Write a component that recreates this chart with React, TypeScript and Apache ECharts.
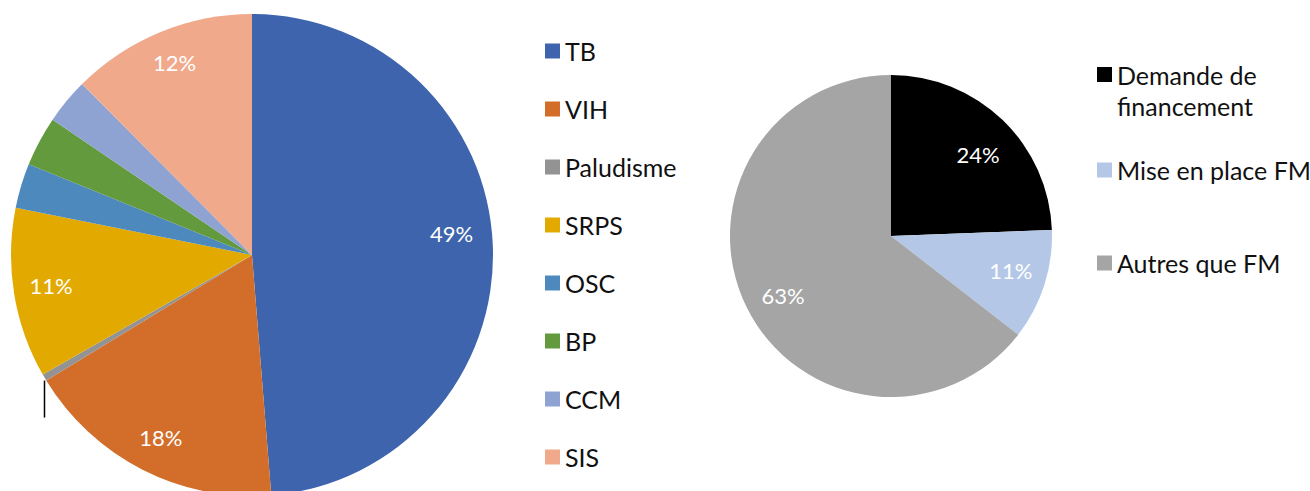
import React, { useEffect, useRef } from "react";
import * as echarts from "echarts";

const leftNames = ["TB", "VIH", "Paludisme", "SRPS", "OSC", "BP", "CCM", "SIS"];
const leftValues = [48.7, 17.55, 0.45, 11.4, 3.0, 3.35, 3.05, 12.45];
const leftLabels = ["49%", "18%", "", "11%", "", "", "", "12%"];
const leftColors = ["#3D64AD", "#D36E2A", "#939393", "#E2AA00", "#4E89BD", "#629A3D", "#8FA3D3", "#F0A98A"];
const leftLabelOffsets = [[-1, -13], [0, 4], [0, 0], [-3, -2], [0, 0], [0, 0], [0, 0], [-1, -7]];

const rightNames = ["Demande de\nfinancement", "Mise en place FM", "Autres que FM"];
const rightValues = [24.4, 11.1, 64.5];
const rightLabels = ["24%", "11%", "63%"];
const rightColors = ["#000000", "#B4C7E7", "#A5A5A5"];
const rightLabelOffsets = [[-1, 10], [-1, -4], [6, 4]];

const FONT = "Lato, 'Open Sans', sans-serif";

export default function App() {
  const ref = useRef<HTMLDivElement>(null);
  useEffect(() => {
    document.body.style.margin = "0";
    const chart = echarts.init(ref.current!, null, { renderer: "svg" });
    const LC = [252, 255];
    const LR = 241;
    const RC = [891, 236];
    const RR = 161;

    // leader line for Paludisme, derived from data
    const total = leftValues.reduce((a, b) => a + b, 0);
    const before = leftValues.slice(0, 2).reduce((a, b) => a + b, 0);
    const midFrac = (before + leftValues[2] / 2) / total;
    const th = midFrac * 2 * Math.PI;
    const px = LC[0] + LR * Math.sin(th);
    const py = LC[1] - LR * Math.cos(th);

    const mkData = (names: string[], vals: number[], cols: string[]) =>
      names.map((n, i) => ({ name: n, value: vals[i], itemStyle: { color: cols[i] } }));
    const mkLabelData = (names: string[], vals: number[], labels: string[], offs: number[][]) =>
      names.map((n, i) => ({ name: n, value: vals[i], label: { formatter: labels[i], offset: offs[i] } }));

    const legText = { fontSize: 25, color: "#111", lineHeight: 30, fontFamily: FONT };

    chart.setOption({
      animation: false,
      textStyle: { fontFamily: FONT },
      legend: [
        {
          orient: "vertical",
          left: 545,
          top: 36,
          padding: 0,
          itemWidth: 15,
          itemHeight: 15,
          itemGap: 28,
          icon: "rect",
          data: leftNames,
          textStyle: legText,
        },
        {
          orient: "vertical",
          left: 1097,
          top: 28,
          padding: 0,
          itemWidth: 15,
          itemHeight: 15,
          icon: "rect",
          data: [rightNames[0]],
          formatter: (n: string) => "\n" + n,
          textStyle: { ...legText, lineHeight: 31 },
        },
        {
          orient: "vertical",
          left: 1097,
          top: 155,
          padding: 0,
          itemWidth: 15,
          itemHeight: 15,
          icon: "rect",
          data: [rightNames[1]],
          textStyle: legText,
        },
        {
          orient: "vertical",
          left: 1097,
          top: 248,
          padding: 0,
          itemWidth: 15,
          itemHeight: 15,
          icon: "rect",
          data: [rightNames[2]],
          textStyle: legText,
        },
      ],
      series: [
        {
          type: "pie",
          center: LC,
          radius: LR,
          startAngle: 90,
          label: { show: false },
          labelLine: { show: false },
          emphasis: { disabled: true },
          data: mkData(leftNames, leftValues, leftColors),
        },
        {
          type: "pie",
          center: LC,
          radius: [LR * 0.64, LR],
          startAngle: 90,
          silent: true,
          itemStyle: { color: "rgba(0,0,0,0)" },
          label: { show: true, position: "inside", color: "#fff", fontSize: 22, fontFamily: FONT },
          labelLine: { show: false },
          legendHoverLink: false,
          data: mkLabelData(leftNames, leftValues, leftLabels, leftLabelOffsets),
        },
        {
          type: "pie",
          center: RC,
          radius: RR,
          startAngle: 90,
          label: { show: false },
          labelLine: { show: false },
          emphasis: { disabled: true },
          data: mkData(rightNames, rightValues, rightColors),
        },
        {
          type: "pie",
          center: RC,
          radius: [RR * 0.54, RR],
          startAngle: 90,
          silent: true,
          itemStyle: { color: "rgba(0,0,0,0)" },
          label: { show: true, position: "inside", color: "#fff", fontSize: 22, fontFamily: FONT },
          labelLine: { show: false },
          data: mkLabelData(rightNames, rightValues, rightLabels, rightLabelOffsets),
        },
      ],
      graphic: [
        {
          type: "line",
          shape: { x1: px, y1: py + 3, x2: px, y2: py + 40 },
          style: { stroke: "#000", lineWidth: 1.5 },
        },
      ],
    });
    return () => chart.dispose();
  }, []);
  return <div ref={ref} style={{ width: 1310, height: 491 }} />;
}
